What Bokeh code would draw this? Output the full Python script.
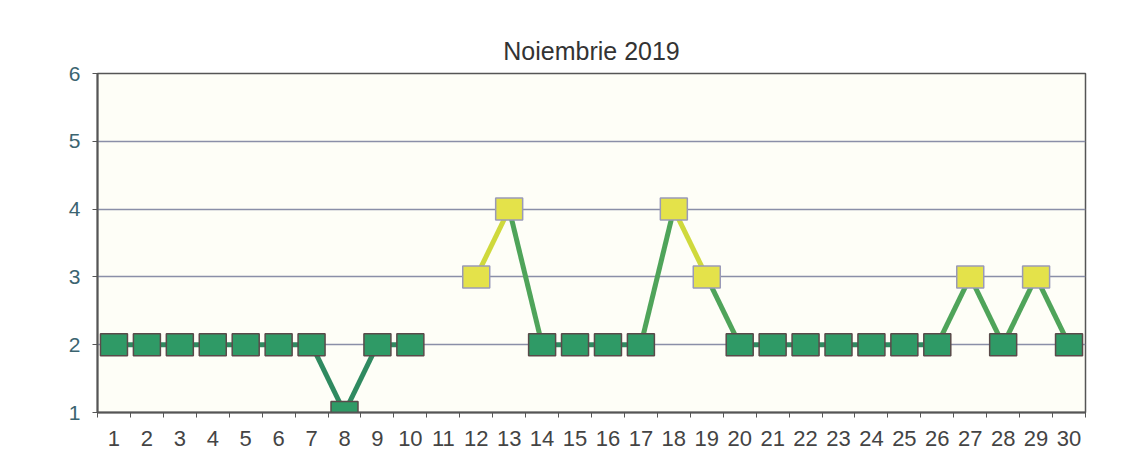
import math
from bokeh.plotting import figure
from bokeh.models import FixedTicker, Range1d, ColumnDataSource
from bokeh.embed import file_html
from bokeh.resources import INLINE

days = list(range(1, 31))
values = [2, 2, 2, 2, 2, 2, 2, 1, 2, 2, float("nan"), 3, 4, 2, 2, 2, 2, 4, 3, 2,
          2, 2, 2, 2, 2, 2, 3, 2, 3, 2]
title_text = "Noiembrie 2019"
y_ticks = [1, 2, 3, 4, 5, 6]

GREEN = "#2f9a66"
YELLOW = "#e4e24a"

p = figure(width=1140, height=463, output_backend="svg", toolbar_location=None,
           x_range=Range1d(0.5, 30.5), y_range=Range1d(1, 6),
           min_border_left=97, min_border_right=55, min_border_bottom=51, min_border_top=73)

p.title.text = title_text
p.title.align = "center"
p.title.text_font = "Liberation Sans"
p.title.text_font_size = "25px"
p.title.text_font_style = "normal"
p.title.text_color = "#333333"
p.title.standoff = 18

p.background_fill_color = "#fefef7"
p.border_fill_color = "white"
p.outline_line_color = "#555555"
p.outline_line_width = 1.5

# grid
p.xgrid.grid_line_color = None
p.ygrid.ticker = FixedTicker(ticks=y_ticks)
p.ygrid.grid_line_color = "#8a8fa8"
p.ygrid.grid_line_width = 1.5

# axes
p.yaxis.ticker = FixedTicker(ticks=y_ticks)
p.yaxis.major_label_text_font = "Liberation Sans"
p.yaxis.major_label_text_font_size = "21px"
p.yaxis.major_label_text_color = "#3b6470"
p.yaxis.axis_line_color = "#555555"
p.yaxis.axis_line_width = 2
p.yaxis.major_tick_in = 0
p.yaxis.major_tick_out = 5
p.yaxis.major_tick_line_color = "#555555"
p.yaxis.minor_tick_line_color = None
p.yaxis.major_label_standoff = 12

p.xaxis.ticker = FixedTicker(ticks=days, minor_ticks=[d - 0.5 for d in days] + [30.5])
p.xaxis.major_tick_line_color = None
p.xaxis.minor_tick_in = 0
p.xaxis.minor_tick_out = 5
p.xaxis.minor_tick_line_color = "#555555"
p.xaxis.axis_line_color = "#555555"
p.xaxis.axis_line_width = 2
p.xaxis.major_label_text_font = "Liberation Sans"
p.xaxis.major_label_text_font_size = "22px"
p.xaxis.major_label_text_color = "#444444"
p.xaxis.major_label_standoff = 12

# line segments (break at missing)
x0, y0, x1, y1, cols = [], [], [], [], []
for i in range(len(days) - 1):
    a, b = values[i], values[i + 1]
    if math.isnan(a) or math.isnan(b):
        continue
    x0.append(days[i]); y0.append(a); x1.append(days[i + 1]); y1.append(b)
    if a >= 3 and b >= 3:
        cols.append("#cfd93c")
    elif a <= 2 and b <= 2:
        cols.append("#2f8a60")
    else:
        cols.append("#4fa45a")
seg = ColumnDataSource(dict(x0=x0, y0=y0, x1=x1, y1=y1, c=cols))
p.segment("x0", "y0", "x1", "y1", source=seg, line_color="c", line_width=5)

# markers
mx, my, fc, lc = [], [], [], []
for d, v in zip(days, values):
    if math.isnan(v):
        continue
    mx.append(d); my.append(v)
    fc.append(YELLOW if v >= 3 else GREEN)
    lc.append("#9a9ab8" if v >= 3 else "#5a4a4a")
ms = ColumnDataSource(dict(x=mx, y=my, fc=fc, lc=lc))
p.rect("x", "y", width=27, height=22, width_units="screen", height_units="screen",
       source=ms, fill_color="fc", line_color="lc", line_width=1.5)

open("out.html", "w").write(file_html(p, INLINE))
